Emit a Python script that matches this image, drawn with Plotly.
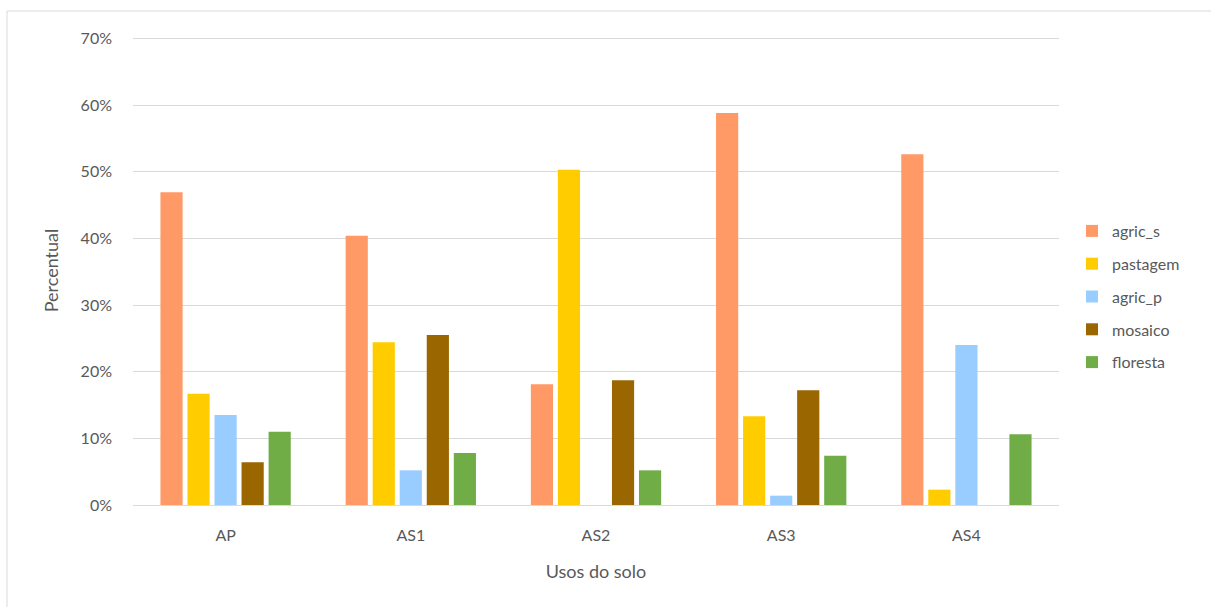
import plotly.graph_objects as go

categories = ["AP", "AS1", "AS2", "AS3", "AS4"]
agric_s = [0.469, 0.404, 0.181, 0.588, 0.526]
pastagem = [0.167, 0.244, 0.503, 0.133, 0.023]
agric_p = [0.135, 0.052, 0.0, 0.014, 0.240]
mosaico = [0.064, 0.255, 0.187, 0.172, 0.0]
floresta = [0.110, 0.078, 0.052, 0.074, 0.106]

series_names = ["agric_s", "pastagem", "agric_p", "mosaico", "floresta"]
series_values = [agric_s, pastagem, agric_p, mosaico, floresta]
colors = ["#FF9966", "#FFCC00", "#99CCFF", "#996600", "#70AD47"]

FONT = "Lato"
TXT = "#595959"

fig = go.Figure()
for name, vals, col in zip(series_names, series_values, colors):
    fig.add_trace(go.Bar(x=categories, y=vals, name=name, marker_color=col,
                         marker_line_width=0, legendgroup=name))

W, H = 1211, 607
L, R, T, B = 133, 152, 36, 102
pw, ph = W - L - R, H - T - B

def px_x(p):
    return (p - L) / pw

def px_y(p):
    return (H - B - p) / ph

fig.update_layout(
    width=W, height=H,
    margin=dict(l=L, r=R, t=T, b=B),
    paper_bgcolor="white", plot_bgcolor="white",
    barmode="group", bargap=0.27, bargroupgap=0.18,
    font=dict(family=FONT, color=TXT, size=16),
    legend=dict(x=px_x(1072), y=px_y(214), xanchor="left", yanchor="top",
                font=dict(size=16, color=TXT), tracegroupgap=9,
                itemwidth=30, bgcolor="rgba(0,0,0,0)"),
    xaxis=dict(showgrid=False, showline=True, linecolor="#D9D9D9", linewidth=1,
               ticks="", tickfont=dict(size=16, color=TXT), ticklabelstandoff=16,
               title=dict(text="Usos do solo", font=dict(size=18, color=TXT), standoff=22)),
    yaxis=dict(range=[0, 0.7035], tickvals=[0, 0.1, 0.2, 0.3, 0.4, 0.5, 0.6, 0.7],
               tickformat=".0%", showgrid=True,
               gridcolor="#D9D9D9", gridwidth=1, zeroline=False, ticks="",
               tickfont=dict(size=16, color=TXT), ticklabelstandoff=20,
               title=dict(text="Percentual", font=dict(size=18, color=TXT), standoff=17)),
    shapes=[dict(type="rect", xref="paper", yref="paper",
                 x0=px_x(7), x1=px_x(1220), y0=px_y(11), y1=px_y(620),
                 line=dict(color="#D9D9D9", width=1), layer="below")],
)

fig.write_html("out.html")
